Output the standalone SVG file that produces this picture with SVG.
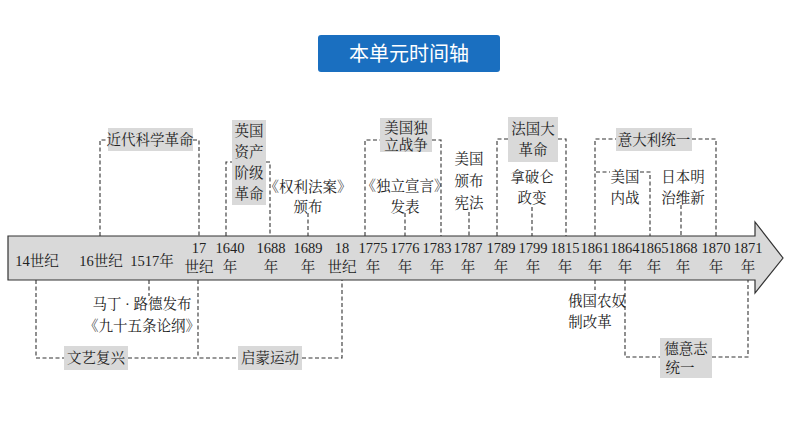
<svg xmlns="http://www.w3.org/2000/svg" width="794" height="447" viewBox="0 0 794 447">
<style>
text{font-family:"Liberation Serif","Noto Serif CJK SC","Noto Sans CJK SC",serif;font-size:14.5px;fill:#222;text-anchor:middle}
.d{fill:none;stroke:#333;stroke-width:1.1;stroke-dasharray:4,2.5}
.b{fill:#d9d9d9}
</style>
<rect width="794" height="447" fill="#fff"/>
<g id="title"><rect x="318" y="35" width="182" height="37" rx="3" fill="#1a6fc0"/><text x="409" y="61" style="fill:#fff;font-size:20px;font-family:'Noto Sans CJK SC',sans-serif">本单元时间轴</text></g>
<g id="axis"><path d="M8,236 H755 V222 L783,258 L755,293 V280 H8 Z" fill="#d9d9d9" stroke="#333" stroke-width="1.2"/>
<text x="37" y="266">14世纪</text><text x="101" y="266">16世纪</text><text x="152" y="266">1517年</text>
<g>
<text x="199" y="253">17</text><text x="199" y="272">世纪</text>
<text x="230" y="253">1640</text><text x="230" y="272">年</text>
<text x="271" y="253">1688</text><text x="271" y="272">年</text>
<text x="308" y="253">1689</text><text x="308" y="272">年</text>
<text x="342" y="253">18</text><text x="342" y="272">世纪</text>
<text x="373" y="253">1775</text><text x="373" y="272">年</text>
<text x="405" y="253">1776</text><text x="405" y="272">年</text>
<text x="437" y="253">1783</text><text x="437" y="272">年</text>
<text x="468" y="253">1787</text><text x="468" y="272">年</text>
<text x="501" y="253">1789</text><text x="501" y="272">年</text>
<text x="533" y="253">1799</text><text x="533" y="272">年</text>
<text x="565" y="253">1815</text><text x="565" y="272">年</text>
<text x="595" y="253">1861</text><text x="595" y="272">年</text>
<text x="625" y="253">1864</text><text x="625" y="272">年</text>
<text x="654" y="253">1865</text><text x="654" y="272">年</text>
<text x="683" y="253">1868</text><text x="683" y="272">年</text>
<text x="716" y="253">1870</text><text x="716" y="272">年</text>
<text x="748" y="253">1871</text><text x="748" y="272">年</text>
</g></g>
<g id="connectors">
<path class="d" d="M100,236 V140 H108 M193,140 H199 V236"/>
<path class="d" d="M226,236 V162 H232 M266,162 H270 V236"/>
<path class="d" d="M308,213 V236"/>
<path class="d" d="M149,280 V296"/>
<path class="d" d="M36,280 V358 H64 M128,358 H238 M302,358 H342 V280 M198,280 V358"/>
<path class="d" d="M365,236 V140 H380 M432,140 H441 V236"/>
<path class="d" d="M405,213 V236"/>
<path class="d" d="M469,212 V236"/>
<path class="d" d="M497,236 V139 H508 M558,139 H566 V236"/>
<path class="d" d="M532,207 V236"/>
<path class="d" d="M595,236 V139 H616 M692,139 H716 V236"/>
<path class="d" d="M596,172 H610 M640,172 H650 V236"/>
<path class="d" d="M681,205 V236"/>
<path class="d" d="M595,280 V290"/>
<path class="d" d="M625,280 V357 H660 M712,357 H748 V280"/>
</g>
<g id="n-sci"><rect class="b" x="108" y="128" width="85" height="23"/><text x="150" y="145">近代科学革命</text></g>
<g id="n-eng"><rect class="b" x="232" y="120" width="34" height="85"/><text x="249" y="136">英国</text><text x="249" y="157">资产</text><text x="249" y="178">阶级</text><text x="249" y="199">革命</text></g>
<g id="n-bill"><text x="308" y="192">《权利法案》</text><text x="308" y="212">颁布</text></g>
<g id="n-luther"><text x="142" y="309">马丁 · 路德发布</text><text x="142" y="331">《九十五条论纲》</text></g>
<g id="n-ren"><rect class="b" x="64" y="346" width="64" height="24"/><text x="96" y="363">文艺复兴</text></g>
<g id="n-enl"><rect class="b" x="238" y="346" width="64" height="24"/><text x="270" y="363">启蒙运动</text></g>
<g id="n-usind"><rect class="b" x="380" y="118" width="52" height="34"/><text x="406" y="133">美国独</text><text x="406" y="150">立战争</text></g>
<g id="n-decl"><text x="405" y="191">《独立宣言》</text><text x="405" y="212">发表</text></g>
<g id="n-const"><text x="469" y="164">美国</text><text x="469" y="186">颁布</text><text x="469" y="208">宪法</text></g>
<g id="n-fr"><rect class="b" x="508" y="117" width="50" height="45"/><text x="533" y="134">法国大</text><text x="533" y="155">革命</text></g>
<g id="n-nap"><text x="532" y="182">拿破仑</text><text x="532" y="203">政变</text></g>
<g id="n-it"><rect class="b" x="616" y="128" width="76" height="23"/><text x="654" y="145">意大利统一</text></g>
<g id="n-uscw"><text x="625" y="182">美国</text><text x="625" y="203">内战</text></g>
<g id="n-meiji"><text x="683" y="182">日本明</text><text x="683" y="203">治维新</text></g>
<g id="n-rus"><text x="597" y="306">俄国农奴</text><text x="590" y="327">制改革</text></g>
<g id="n-ger"><rect class="b" x="660" y="338" width="52" height="40"/><text x="686" y="354">德意志</text><text x="680" y="373">统一</text></g>
</svg>
